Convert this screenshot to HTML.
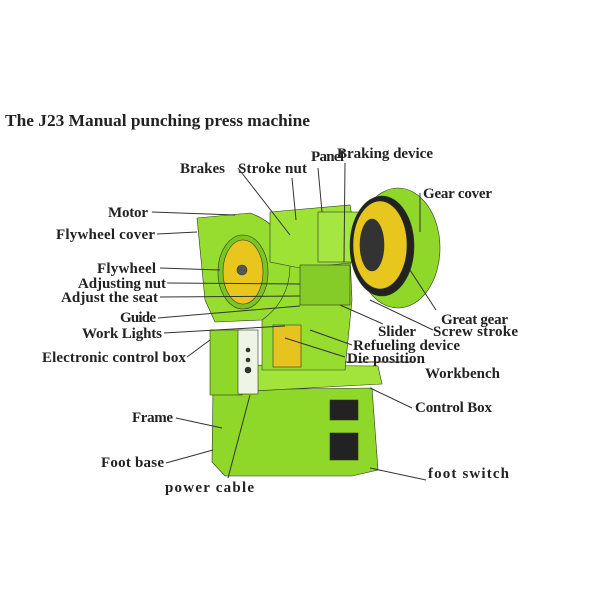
<!DOCTYPE html>
<html><head><style>
body{margin:0;background:#fff}
svg text{font-family:"Liberation Serif",serif;font-weight:bold;fill:#222}
</style></head><body>
<svg width="600" height="600" viewBox="0 0 600 600" xmlns="http://www.w3.org/2000/svg">
<rect width="600" height="600" fill="#fff"/>
<text x="5" y="126" font-size="17" textLength="305" lengthAdjust="spacingAndGlyphs">The J23 Manual punching press machine</text>
<g stroke="#2a3a20" stroke-width="0.6">
<polygon points="213,390 372,388 378,470 352,476 225,476 212,462" fill="#8fd82a"/>
<rect x="330" y="400" width="28" height="20" fill="#222"/>
<rect x="330" y="433" width="28" height="27" fill="#222"/>
<polygon points="228,365 378,366 382,384 235,392" fill="#a2e43a"/>
<polygon points="262,255 350,255 352,300 345,370 262,370" fill="#96dd30"/>
<rect x="273" y="325" width="28" height="42" fill="#e7c320"/>
<rect x="210" y="330" width="32" height="65" fill="#8fd82a"/>
<rect x="238" y="330" width="20" height="64" fill="#eef4e6"/>
<circle cx="248" cy="350" r="2" fill="#333"/><circle cx="248" cy="360" r="2" fill="#333"/><circle cx="248" cy="370" r="3" fill="#333"/>
<path d="M197,218 L250,213 Q285,225 290,265 Q290,300 262,320 L215,322 L205,300 Z" fill="#96dd30"/>
<ellipse cx="243" cy="272" rx="25" ry="37" fill="#7cc422"/>
<ellipse cx="243" cy="272" rx="20" ry="32" fill="#e8c61e"/>
<circle cx="242" cy="270" r="5" fill="#555"/>
<polygon points="270,212 350,205 360,262 300,268 270,262" fill="#9ee236"/>
<rect x="318" y="212" width="52" height="50" fill="#a6e640"/>
<ellipse cx="398" cy="248" rx="42" ry="60" fill="#8fd82a"/>
<ellipse cx="382" cy="246" rx="32" ry="50" fill="#222"/>
<ellipse cx="380" cy="245" rx="27" ry="44" fill="#e8c61e"/>
<ellipse cx="372" cy="245" rx="12" ry="26" fill="#333"/>
<rect x="300" y="265" width="50" height="40" fill="#85cc28"/>
</g>
<g stroke="#333" stroke-width="1" fill="none">
<line x1="152" y1="212" x2="235" y2="215"/>
<line x1="157" y1="234" x2="197" y2="232"/>
<line x1="160" y1="268" x2="220" y2="270"/>
<line x1="167" y1="283" x2="300" y2="284"/>
<line x1="160" y1="297" x2="300" y2="296"/>
<line x1="158" y1="318" x2="300" y2="306"/>
<line x1="164" y1="333" x2="285" y2="326"/>
<line x1="187" y1="357" x2="210" y2="340"/>
<line x1="176" y1="418" x2="222" y2="428"/>
<line x1="166" y1="463" x2="213" y2="450"/>
<line x1="228" y1="478" x2="250" y2="395"/>
<line x1="238" y1="168" x2="290" y2="235"/>
<line x1="292" y1="178" x2="296" y2="220"/>
<line x1="318" y1="168" x2="322" y2="212"/>
<line x1="345" y1="163" x2="344" y2="262"/>
<line x1="420" y1="193" x2="420" y2="232"/>
<line x1="436" y1="310" x2="410" y2="270"/>
<line x1="433" y1="330" x2="370" y2="300"/>
<line x1="383" y1="324" x2="340" y2="305"/>
<line x1="352" y1="345" x2="310" y2="330"/>
<line x1="345" y1="357" x2="285" y2="338"/>
<line x1="412" y1="408" x2="370" y2="388"/>
<line x1="426" y1="480" x2="370" y2="468"/>
<line x1="345" y1="362" x2="415" y2="362"/>
</g>
<g font-size="15" lengthAdjust="spacingAndGlyphs">
<text x="180" y="173" textLength="45">Brakes</text>
<text x="238" y="173" textLength="69">Stroke nut</text>
<text x="311" y="161" textLength="33">Panel</text>
<text x="337" y="158" textLength="96">Braking device</text>
<text x="423" y="198" textLength="69">Gear cover</text>
<text x="108" y="217" textLength="40">Motor</text>
<text x="56" y="239" textLength="99">Flywheel cover</text>
<text x="97" y="273" textLength="59">Flywheel</text>
<text x="78" y="288" textLength="88">Adjusting nut</text>
<text x="61" y="302" textLength="97">Adjust the seat</text>
<text x="120" y="322" textLength="36">Guide</text>
<text x="82" y="338" textLength="80">Work Lights</text>
<text x="42" y="362" textLength="144">Electronic control box</text>
<text x="441" y="324" textLength="67">Great gear</text>
<text x="378" y="336" textLength="38">Slider</text>
<text x="433" y="336" textLength="85">Screw stroke</text>
<text x="353" y="350" textLength="107">Refueling device</text>
<text x="347" y="363" textLength="78">Die position</text>
<text x="425" y="378" textLength="75">Workbench</text>
<text x="415" y="412" textLength="77">Control Box</text>
<text x="132" y="422" textLength="41">Frame</text>
<text x="101" y="467" textLength="63">Foot base</text>
<text x="428" y="478" textLength="81">foot switch</text>
<text x="165" y="492" textLength="89">power cable</text>
</g>
</svg>
</body></html>
